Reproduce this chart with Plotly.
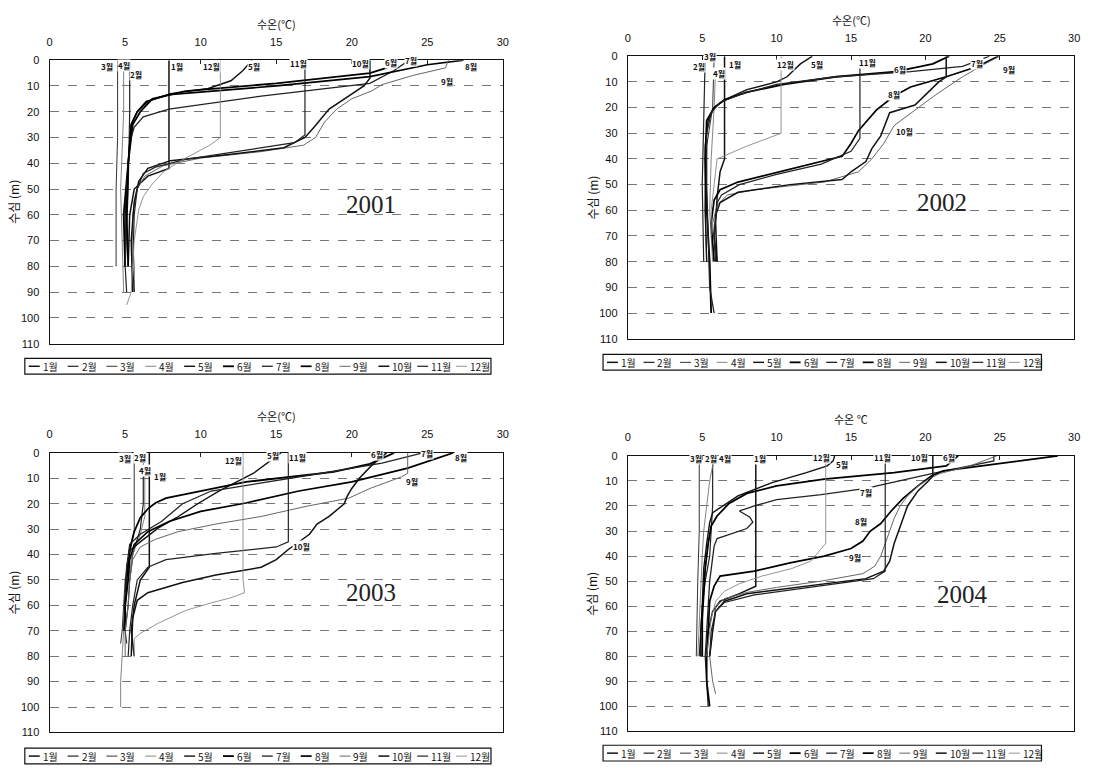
import plotly.graph_objects as go

W, H = 1100, 768
months = ["1월", "2월", "3월", "4월", "5월", "6월", "7월", "8월", "9월", "10월", "11월", "12월"]
years = ["2001", "2002", "2003", "2004"]
x_title = ["수온(℃)", "수온(℃)", "수온(℃)", "수온 ℃"]
y_title = "수심 (m)"
x_ticks = [0, 5, 10, 15, 20, 25, 30]
y_ticks = [0, 10, 20, 30, 40, 50, 60, 70, 80, 90, 100, 110]

# ---------------- 2001 profiles (temperature °C, depth m) ----------------
t01_1 = [7.9, 7.9, 6.5, 5.6, 5.3, 5.2]
d01_1 = [0, 42, 45, 50, 60, 80]
t01_2 = [5.3, 5.3, 5.2, 5.0, 5.1]
d01_2 = [0, 20, 50, 80, 90]
t01_3 = [4.5, 4.5, 4.4, 4.4]
d01_3 = [0, 30, 50, 80]
t01_4 = [4.9, 4.9, 4.7, 4.8, 4.9]
d01_4 = [0, 20, 50, 70, 90]
t01_5 = [13.4, 12.8, 12.0, 10.5, 8.0, 6.5, 5.8, 5.4, 5.2, 5.0, 5.0]
d01_5 = [0, 4, 8, 11, 13, 16, 20, 25, 40, 60, 80]
t01_6 = [22.9, 22.3, 21.2, 15.0, 9.0, 6.8, 6.0, 5.5, 5.2, 4.9, 5.0]
d01_6 = [0, 3, 5, 9, 12, 15, 20, 25, 40, 60, 80]
t01_7 = [23.8, 22.8, 21.2, 14.0, 7.9, 6.2, 5.6, 5.3, 5.1, 5.0]
d01_7 = [0, 4, 9, 14, 19, 22, 26, 32, 50, 80]
t01_8 = [27.4, 25.0, 21.2, 15.0, 7.9, 6.4, 5.8, 5.4, 5.2, 5.1, 5.2]
d01_8 = [0, 1.8, 6.4, 10, 13.4, 16, 20, 25, 40, 60, 80]
t01_9 = [26.4, 26.2, 24.0, 22.0, 21.3, 20.0, 19.0, 18.2, 17.6, 16.8, 14.0, 10.0, 7.5, 6.3, 5.8, 5.5, 5.5, 5.6, 5.6]
d01_9 = [0, 3, 6, 9.5, 12, 15, 19, 24, 30, 33, 35.5, 38, 41, 45, 50, 60, 70, 80, 90]
t01_10 = [21.2, 21.2, 20.8, 19.8, 18.5, 17.5, 16.9, 15.5, 12.0, 8.0, 6.5, 5.9, 5.6, 5.4, 5.5]
d01_10 = [0, 7, 10, 14, 19, 26, 30, 34, 36.5, 39, 42, 47, 55, 70, 90]
t01_11 = [16.9, 16.9, 16.2, 13.0, 9.0, 7.0, 6.2, 5.8, 5.6, 5.5, 5.6]
d01_11 = [0, 29, 32, 35, 38.5, 41.5, 44, 50, 60, 80, 90]
t01_12 = [11.3, 11.3, 10.6, 9.0, 7.6, 6.8, 6.2, 5.9, 5.6, 5.5, 5.4, 5.1]
d01_12 = [0, 30, 33, 38, 43, 48, 53, 58, 70, 80, 90, 95]

# ---------------- 2002 profiles ----------------
t02_1 = [6.5, 6.5, 6.2, 6.0, 5.9, 6.0]
d02_1 = [0, 40, 45, 55, 65, 80]
t02_2 = [5.2, 5.1, 5.0, 5.1]
d02_2 = [0, 30, 50, 80]
t02_3 = [5.8, 5.7, 5.3, 5.2, 5.3]
d02_3 = [0, 20, 35, 60, 80]
t02_4 = [5.9, 5.8, 5.6, 5.5, 5.6, 5.7]
d02_4 = [5, 20, 40, 60, 70, 80]
t02_5 = [12.4, 11.6, 10.7, 10.0, 8.0, 6.5, 5.8, 5.4, 5.2, 5.2, 5.3]
d02_5 = [0, 3, 8, 10, 13, 17, 20, 25, 35, 60, 80]
t02_6 = [21.6, 20.5, 18.0, 14.0, 10.5, 8.0, 6.5, 5.8, 5.3, 5.2, 5.3, 5.5, 5.6]
d02_6 = [0, 3, 6, 8, 11, 14, 17, 20, 25, 40, 60, 80, 100]
t02_7 = [24.3, 22.5, 19.0, 14.0, 10.0, 7.5, 6.2, 5.6, 5.3, 5.3, 5.4, 5.5, 5.8]
d02_7 = [0, 4, 6, 8, 11, 15, 18, 22, 30, 50, 70, 90, 100]
t02_8 = [24.9, 23.5, 21.4, 19.0, 17.9, 16.7, 15.5, 15.0, 14.4, 10.9, 7.4, 6.2, 5.8, 5.6, 5.8]
d02_8 = [0, 4, 8, 12, 15.5, 21, 29, 34, 39, 44, 49, 52, 56, 65, 80]
t02_9 = [25.0, 24.0, 22.5, 20.7, 19.3, 17.9, 17.2, 16.4, 15.5, 13.2, 8.5, 6.7, 6.0, 5.7, 5.9]
d02_9 = [0, 3, 8, 15, 21, 27, 34, 40, 45, 49, 52, 54, 58, 65, 80]
t02_10 = [21.4, 21.4, 20.9, 19.3, 17.6, 17.0, 16.4, 16.0, 15.0, 14.4, 10.9, 7.4, 6.2, 5.9, 5.8, 6.0]
d02_10 = [0, 8, 10, 19, 22, 31, 36, 41, 45, 48, 50, 53, 57, 62, 70, 80]
t02_11 = [15.6, 15.6, 15.0, 13.0, 10.0, 7.5, 6.3, 6.0, 5.8, 5.9]
d02_11 = [0, 32, 37, 42, 46, 50, 54, 57, 70, 80]
t02_12 = [10.3, 10.3, 8.0, 6.0, 5.8, 5.6, 5.6]
d02_12 = [0, 30, 35, 40, 50, 60, 70]

# ---------------- 2003 profiles ----------------
t03_1 = [6.6, 6.6, 6.0, 5.6, 5.4, 5.6]
d03_1 = [0, 45, 50, 60, 70, 80]
t03_2 = [6.2, 6.2, 6.0, 5.5, 5.3, 5.2, 5.0, 5.1]
d03_2 = [0, 20, 30, 40, 50, 60, 70, 75]
t03_3 = [5.6, 5.6, 5.3, 5.0, 4.9, 4.8, 4.7]
d03_3 = [0, 30, 40, 50, 60, 70, 75]
t03_4 = [6.3, 6.3, 6.0, 5.5, 5.2, 5.0, 4.9, 4.8, 4.7, 4.7]
d03_4 = [5, 25, 32, 40, 50, 60, 70, 80, 90, 100]
t03_5 = [15.3, 13.5, 11.2, 9.8, 8.4, 7.2, 6.0, 5.3, 5.1, 5.0, 4.9]
d03_5 = [0, 8, 15, 20, 25.5, 29.5, 35, 38.5, 45, 60, 70]
t03_6 = [22.8, 21.2, 18.8, 13.0, 7.7, 7.0, 6.5, 6.0, 5.6, 5.3, 5.1, 5.0, 5.0]
d03_6 = [0, 4.3, 7.5, 11.4, 17.8, 19.7, 22, 25.5, 31, 38, 50, 60, 70]
t03_7 = [24.7, 22.0, 18.0, 13.0, 10.7, 8.8, 7.4, 6.0, 5.3, 5.1, 5.0, 5.0]
d03_7 = [0, 4, 8, 12.6, 15, 20, 27, 32, 36, 45, 60, 70]
t03_8 = [26.7, 23.7, 20.0, 16.5, 13.0, 10.0, 7.9, 6.5, 5.6, 5.3, 5.2, 5.0, 5.0]
d03_8 = [0, 6, 11.4, 15, 19.7, 23, 27, 31, 36, 42, 50, 60, 70]
t03_9 = [23.7, 23.7, 23.3, 21.2, 19.8, 17.0, 14.0, 11.0, 8.5, 7.0, 6.0, 5.5, 5.3, 5.2, 5.0, 5.0]
d03_9 = [0, 8, 9.4, 14, 17.8, 21, 25, 28, 31, 34, 37, 42, 50, 60, 70, 80]
t03_10 = [22.3, 21.3, 20.5, 20.0, 19.7, 19.5, 18.5, 17.7, 17.2, 16.5, 15.8, 15.0, 14.0, 11.0, 8.8, 6.5, 5.8, 5.5, 5.4]
d03_10 = [0, 5, 10, 14, 17, 20, 25, 28, 32, 35, 38, 42, 45, 48, 51, 55, 58, 65, 80]
t03_11 = [15.8, 15.8, 15.0, 11.0, 7.7, 6.5, 5.8, 5.5, 5.3, 5.2]
d03_11 = [0, 35, 37, 39.5, 42, 45, 50, 60, 70, 80]
t03_12 = [12.8, 12.8, 12.9, 12.0, 10.7, 9.0, 7.2, 6.0, 5.6, 5.6]
d03_12 = [0, 50, 55, 57, 59, 62, 67, 71, 73, 80]

# ---------------- 2004 profiles ----------------
t04_1 = [8.6, 8.6, 7.5, 6.2, 5.7, 5.4, 5.3]
d04_1 = [0, 52, 55, 58, 62, 70, 80]
t04_2 = [5.7, 5.7, 5.6, 5.5, 5.2, 5.0, 4.9, 4.8]
d04_2 = [0, 20, 30, 40, 50, 60, 70, 80]
t04_3 = [4.8, 4.8, 4.7, 4.6, 4.6]
d04_3 = [0, 30, 50, 70, 80]
t04_4 = [6.0, 5.7, 5.5, 5.3, 5.1, 5.0, 4.9, 4.8, 4.7]
d04_4 = [1, 4, 10, 20, 30, 40, 55, 70, 80]
t04_5 = [13.9, 13.8, 13.4, 12.0, 9.7, 7.4, 5.7, 5.5, 5.3, 5.1, 5.0, 4.9, 4.9]
d04_5 = [0, 2, 4, 6.7, 10.7, 16, 22.7, 26.7, 35, 45, 60, 70, 80]
t04_6 = [22.2, 21.4, 17.9, 13.2, 10.0, 8.0, 6.8, 6.0, 5.6, 5.4, 5.2, 5.1, 5.0, 5.0]
d04_6 = [0, 4, 6.7, 9.3, 12, 15, 19, 24, 28, 35, 45, 55, 65, 80]
t04_7 = [24.6, 24.6, 20.5, 16.0, 13.0, 10.0, 8.5, 7.5, 8.2, 8.4, 8.0, 6.8, 6.0, 5.8, 5.7, 5.5, 5.4, 5.3, 5.2, 5.3, 5.4]
d04_7 = [0, 2, 7, 13, 15.5, 17.5, 20, 22, 24.5, 26.5, 29, 31.5, 33, 36, 40, 50, 60, 70, 80, 90, 100]
t04_8 = [28.9, 25.0, 21.2, 20.4, 19.5, 18.5, 17.7, 17.0, 16.3, 15.8, 15.0, 13.2, 10.9, 8.5, 6.2, 5.8, 5.5, 5.4, 5.3, 5.3, 5.5]
d04_8 = [0, 3, 6, 8, 12, 17, 22, 27, 30, 34, 37, 40, 42.7, 46, 48, 52, 58, 70, 80, 90, 100]
t04_9 = [24.8, 23.0, 21.0, 20.3, 19.5, 18.8, 18.3, 17.9, 17.6, 17.3, 17.0, 16.6, 15.8, 13.0, 10.0, 8.0, 6.5, 5.9, 5.7, 5.5, 5.7, 5.9]
d04_9 = [0, 4, 7, 9, 12, 16, 20, 25, 30, 35, 40, 44, 47, 50, 52.5, 54.5, 57, 60, 70, 80, 90, 95]
t04_10 = [20.5, 20.5, 20.2, 19.5, 18.8, 18.3, 17.9, 17.6, 17.2, 16.0, 12.0, 8.0, 6.5, 5.9, 5.7, 5.5]
d04_10 = [0, 8, 10, 14, 20, 28, 35, 42, 46, 49, 52, 55, 58, 62, 70, 80]
t04_11 = [17.3, 17.3, 16.5, 12.0, 8.5, 6.5, 5.9, 5.6, 5.5]
d04_11 = [0, 46, 49, 52.5, 55.5, 58.5, 62, 70, 80]
t04_12 = [13.3, 13.3, 13.0, 12.3, 11.0, 9.0, 7.5, 6.5, 5.9, 5.6, 5.4, 5.3]
d04_12 = [0, 35, 37, 42, 45, 48, 51, 54, 58, 65, 75, 80]

# ---------------- month label anchors (temperature, depth) ----------------
lab01_t = [8.4, 5.7, 3.8, 4.9, 13.5, 22.6, 23.9, 27.9, 26.3, 20.6, 16.5, 10.7]
lab01_d = [2.5, 5.7, 2.5, 2.0, 2.5, 0.8, 0.2, 2.5, 8.3, 1.2, 1.2, 2.5]
lab02_t = [7.2, 4.8, 5.5, 6.1, 12.7, 18.3, 23.5, 17.9, 25.6, 18.6, 16.1, 10.6]
lab02_d = [3.4, 4.0, 0.0, 6.6, 3.4, 5.3, 2.8, 14.8, 5.3, 29.4, 2.4, 3.2]
lab03_t = [7.3, 6.0, 5.0, 6.3, 14.8, 21.7, 25.0, 27.2, 24.0, 16.7, 16.4, 12.2]
lab03_d = [9.4, 1.8, 2.3, 6.8, 1.2, 0.6, 0.2, 1.7, 11.4, 36.9, 1.7, 3.0]
lab04_t = [8.9, 5.6, 4.6, 6.5, 14.4, 21.6, 16.0, 15.7, 15.3, 19.6, 17.1, 13.0]
lab04_d = [1.2, 1.0, 1.0, 1.2, 3.3, 0.8, 14.7, 26.0, 40.7, 0.8, 0.8, 0.6]
year_t = [21.3, 21.1, 21.3, 22.5]
year_d = [56, 57, 55, 55.5]

series = [
    [(t01_1, d01_1), (t01_2, d01_2), (t01_3, d01_3), (t01_4, d01_4), (t01_5, d01_5), (t01_6, d01_6),
     (t01_7, d01_7), (t01_8, d01_8), (t01_9, d01_9), (t01_10, d01_10), (t01_11, d01_11), (t01_12, d01_12)],
    [(t02_1, d02_1), (t02_2, d02_2), (t02_3, d02_3), (t02_4, d02_4), (t02_5, d02_5), (t02_6, d02_6),
     (t02_7, d02_7), (t02_8, d02_8), (t02_9, d02_9), (t02_10, d02_10), (t02_11, d02_11), (t02_12, d02_12)],
    [(t03_1, d03_1), (t03_2, d03_2), (t03_3, d03_3), (t03_4, d03_4), (t03_5, d03_5), (t03_6, d03_6),
     (t03_7, d03_7), (t03_8, d03_8), (t03_9, d03_9), (t03_10, d03_10), (t03_11, d03_11), (t03_12, d03_12)],
    [(t04_1, d04_1), (t04_2, d04_2), (t04_3, d04_3), (t04_4, d04_4), (t04_5, d04_5), (t04_6, d04_6),
     (t04_7, d04_7), (t04_8, d04_8), (t04_9, d04_9), (t04_10, d04_10), (t04_11, d04_11), (t04_12, d04_12)],
]
labels = [(lab01_t, lab01_d), (lab02_t, lab02_d), (lab03_t, lab03_d), (lab04_t, lab04_d)]

# ---------------- styles & layout ----------------
line_colors = ["#111111", "#222222", "#333333", "#777777", "#111111", "#000000",
               "#222222", "#000000", "#666666", "#111111", "#222222", "#888888"]
line_widths = [1.5, 1.2, 1.0, 0.9, 1.4, 1.8, 1.3, 1.7, 1.0, 1.5, 1.2, 0.9]

# panel boxes in pixels: (left, right, top, bottom)
panels_px = [(47, 504, 55, 343), (630, 1080, 51, 338), (47, 504, 454, 738), (630, 1080, 457, 737)]
legends_px = [(22, 492, 366), (605, 1047, 362), (22, 492, 762), (605, 1047, 759)]


def px(xp):
    return xp / W


def py(yp):
    return 1 - yp / H


TICKFONT = dict(family="Liberation Sans Narrow, Liberation Sans, Arial", size=11, color="#111")
KFONT = "Noto Sans CJK KR"

fig = go.Figure()
layout = dict(width=W, height=H, margin=dict(l=0, r=0, t=0, b=0),
              paper_bgcolor="white", plot_bgcolor="white", showlegend=False)
annotations = []
shapes = []

for p in range(4):
    ax = "" if p == 0 else str(p + 1)
    l, r, t, b = panels_px[p]
    layout["xaxis" + ax] = dict(domain=[px(l), px(r)], range=[0, 30], side="top",
                                anchor="y" + ax, tickvals=x_ticks, ticks="inside", ticklen=4,
                                tickcolor="#222", showgrid=False, zeroline=False,
                                showline=True, linecolor="#111", linewidth=1.2, mirror=True,
                                tickfont=TICKFONT, ticklabelstandoff=9)
    layout["yaxis" + ax] = dict(domain=[py(b), py(t)], range=[110, 0], anchor="x" + ax,
                                tickvals=y_ticks, ticks="", showgrid=True, gridcolor="#777",
                                griddash="dash", gridwidth=1, zeroline=False,
                                showline=True, linecolor="#111", linewidth=1.2, mirror=True,
                                tickfont=TICKFONT, ticklabelstandoff=7)
    for m in range(12):
        tt, dd = series[p][m]
        fig.add_trace(go.Scatter(x=tt, y=dd, mode="lines", name=months[m],
                                 line=dict(color=line_colors[m], width=line_widths[m]),
                                 xaxis="x" + ax, yaxis="y" + ax, hoverinfo="skip"))
    # month labels
    lt, ld = labels[p]
    for m in range(12):
        annotations.append(dict(x=lt[m], y=ld[m], xref="x" + ax, yref="y" + ax,
                                text="<b>" + months[m] + "</b>", xanchor="center", yanchor="middle",
                                showarrow=False, font=dict(family=KFONT, size=8, color="#111"),
                                bgcolor="white", borderpad=0))
    # year
    annotations.append(dict(x=year_t[p], y=year_d[p], xref="x" + ax, yref="y" + ax, text=years[p],
                            xanchor="center", yanchor="middle", showarrow=False,
                            font=dict(family="Liberation Serif, DejaVu Serif", size=25, color="#222")))
    # axis titles
    annotations.append(dict(x=px((l + r) / 2), y=py(t - 37), xref="paper", yref="paper", text=x_title[p],
                            xanchor="center", yanchor="middle", showarrow=False,
                            font=dict(family=KFONT, size=11, color="#111")))
    annotations.append(dict(x=px(l - 36), y=py((t + b) / 2), xref="paper", yref="paper", text=y_title,
                            xanchor="center", yanchor="middle", textangle=-90, showarrow=False,
                            font=dict(family=KFONT, size=12, color="#111")))
    # legend box
    lx0, lx1, lyc = legends_px[p]
    shapes.append(dict(type="rect", xref="paper", yref="paper", x0=px(lx0), x1=px(lx1),
                       y0=py(lyc + 8), y1=py(lyc - 8), line=dict(color="#111", width=1.2)))
    step = (lx1 - lx0) / 12.0
    for m in range(12):
        sx = lx0 + 4 + m * step
        shapes.append(dict(type="line", xref="paper", yref="paper", x0=px(sx), x1=px(sx + 11),
                           y0=py(lyc), y1=py(lyc), line=dict(color=line_colors[m], width=line_widths[m])))
        annotations.append(dict(x=px(sx + 12), y=py(lyc), xref="paper", yref="paper", text=months[m],
                                xanchor="left", yanchor="middle", showarrow=False,
                                font=dict(family=KFONT, size=10, color="#111")))

layout["annotations"] = annotations
layout["shapes"] = shapes
fig.update_layout(**layout)
fig.write_html("out.html")
